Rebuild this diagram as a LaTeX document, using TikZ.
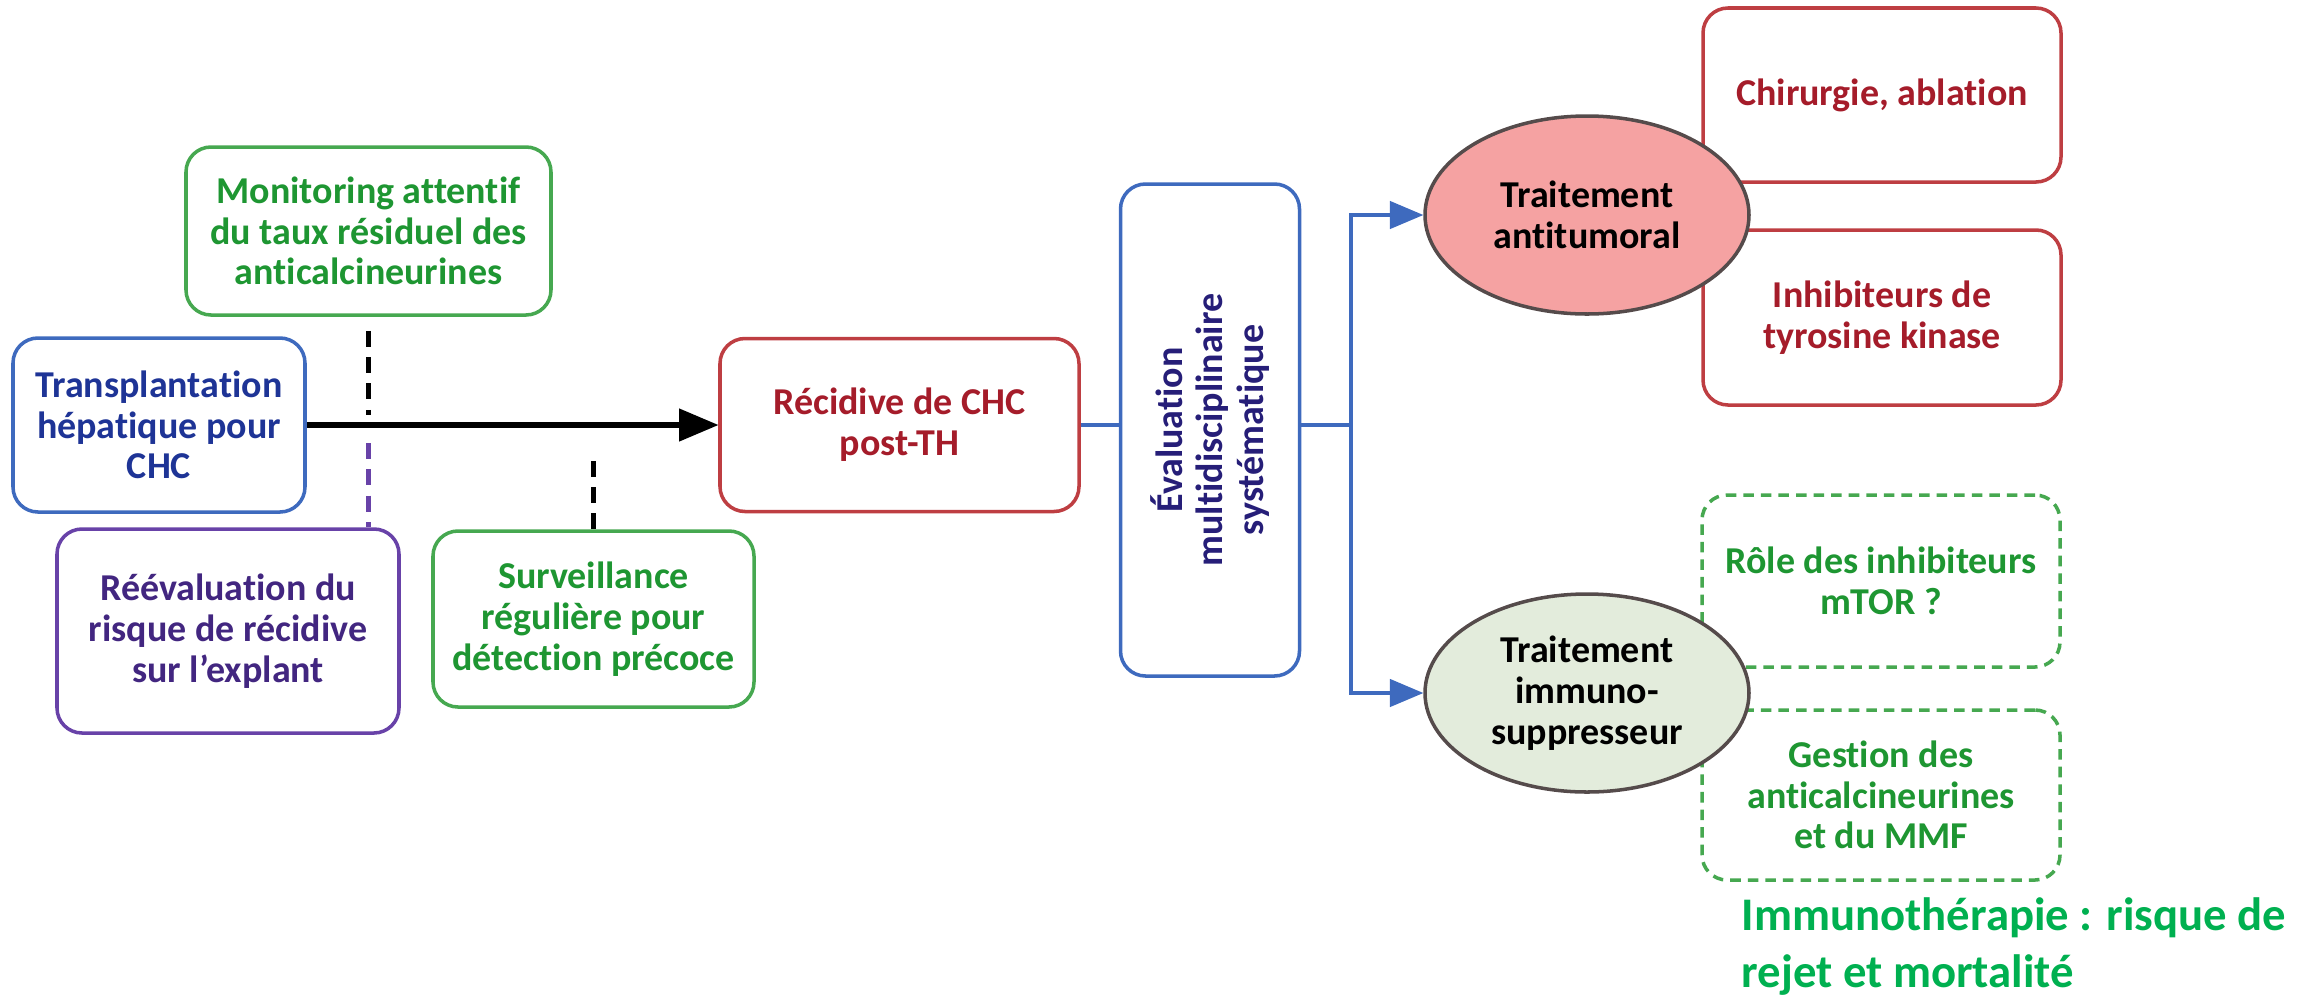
\documentclass[tikz,border=0pt]{standalone}
\usepackage{fontspec}
\setmainfont{Carlito}[Ligatures={NoCommon}]
\usetikzlibrary{shapes.geometric,arrows}
\definecolor{bleu}{RGB}{62,106,190}
\definecolor{bleutxt}{RGB}{30,52,150}
\definecolor{marine}{RGB}{38,30,120}
\definecolor{vert}{RGB}{70,168,80}
\definecolor{verttxt}{RGB}{30,150,50}
\definecolor{violet}{RGB}{104,66,168}
\definecolor{violettxt}{RGB}{66,38,128}
\definecolor{rouge}{RGB}{190,62,66}
\definecolor{rougetxt}{RGB}{165,28,42}
\definecolor{rose}{RGB}{245,162,162}
\definecolor{sauge}{RGB}{227,236,220}
\definecolor{gris}{RGB}{85,75,75}
\definecolor{vertvif}{RGB}{0,176,80}
\tikzset{every node/.style={font=\bfseries\fontsize{10.8}{11.6}\selectfont, align=center, inner sep=2pt},
  boite/.style={draw, rounded corners=0.25cm, line width=1pt, fill=white},
  bulle/.style={ellipse, draw=gris, line width=1pt, inner sep=0pt, minimum width=3.24cm, minimum height=1.98cm},
  tiret/.style={dash pattern=on 4.5pt off 3pt, line width=1.2pt},
  fleche/.style={draw=bleu, line width=1.2pt, -triangle 45}}

\begin{document}
\begin{tikzpicture}
  \useasboundingbox (0,0) rectangle (23.23,-10.01);
  \node[boite, draw=bleu, text=bleutxt, minimum width=2.92cm, minimum height=1.74cm] (a) at (1.59,-4.25) {Transplantation\\hépatique pour\\CHC};
  \node[boite, draw=vert, text=verttxt, minimum width=3.65cm, minimum height=1.68cm] (b) at (3.685,-2.31) {Monitoring attentif\\du taux résiduel des\\anticalcineurines};
  \node[boite, draw=violet, text=violettxt, minimum width=3.42cm, minimum height=2.04cm] (c) at (2.28,-6.31) {Réévaluation du\\risque de récidive\\sur l’explant};
  \node[boite, draw=vert, text=verttxt, minimum width=3.21cm, minimum height=1.76cm] (d) at (5.935,-6.19) {Surveillance\\régulière pour\\détection précoce};
  \node[boite, draw=rouge, text=rougetxt, minimum width=3.59cm, minimum height=1.73cm] (e) at (8.995,-4.25) {Récidive de CHC\\post-TH};
  \node[boite, draw=bleu, text=marine, minimum width=4.92cm, minimum height=1.79cm, rotate=90] (f) at (12.10,-4.30) {Évaluation\\multidisciplinaire\\systématique};
  \coordinate (g) at (13.51,-4.25);

  \node[boite, draw=rouge, text=rougetxt, minimum width=3.58cm, minimum height=1.74cm] (j) at (18.82,-0.95) {Chirurgie, ablation};
  \node[boite, draw=rouge, text=rougetxt, minimum width=3.58cm, minimum height=1.75cm] (k) at (18.82,-3.175) {Inhibiteurs de\\tyrosine kinase};
  \node[boite, draw=vert, text=verttxt, densely dashed, minimum width=3.58cm, minimum height=1.72cm] (l) at (18.81,-5.81) {Rôle des inhibiteurs\\mTOR ?};
  \node[boite, draw=vert, text=verttxt, densely dashed, minimum width=3.58cm, minimum height=1.70cm] (m) at (18.81,-7.95) {Gestion des\\anticalcineurines\\et du MMF};
  \node[bulle, fill=rose] (h) at (15.87,-2.15) {Traitement\\antitumoral};
  \node[bulle, fill=sauge] (i) at (15.87,-6.93) {Traitement\\immuno-\\suppresseur};

  \node[anchor=north west, text=vertvif, font=\bfseries\fontsize{13.3}{16.2}\selectfont, align=left, inner sep=0pt] (n) at (17.41,-8.97) {Immunothérapie : risque de\\rejet et mortalité};

  \draw[line width=1.6pt, -triangle 45] (a) -- (e);
  \draw[tiret] ([yshift=-0.14cm]b.south) -- ([yshift=0.1cm]b.south |- a.east);
  \draw[tiret, draw=violet] ([yshift=-0.18cm]b.south |- a.east) -- (b.south |- c.north);
  \draw[tiret] (d.north) -- ([yshift=-0.29cm]d.north |- a.east);
  \draw[draw=bleu, line width=1.2pt] (e.east) -- (e.east -| f.north);
  \draw[draw=bleu, line width=1.2pt] (e.east -| f.south) -- (g);
  \draw[fleche] (g) |- (h);
  \draw[fleche] (g) |- (i);
\end{tikzpicture}
\end{document}
